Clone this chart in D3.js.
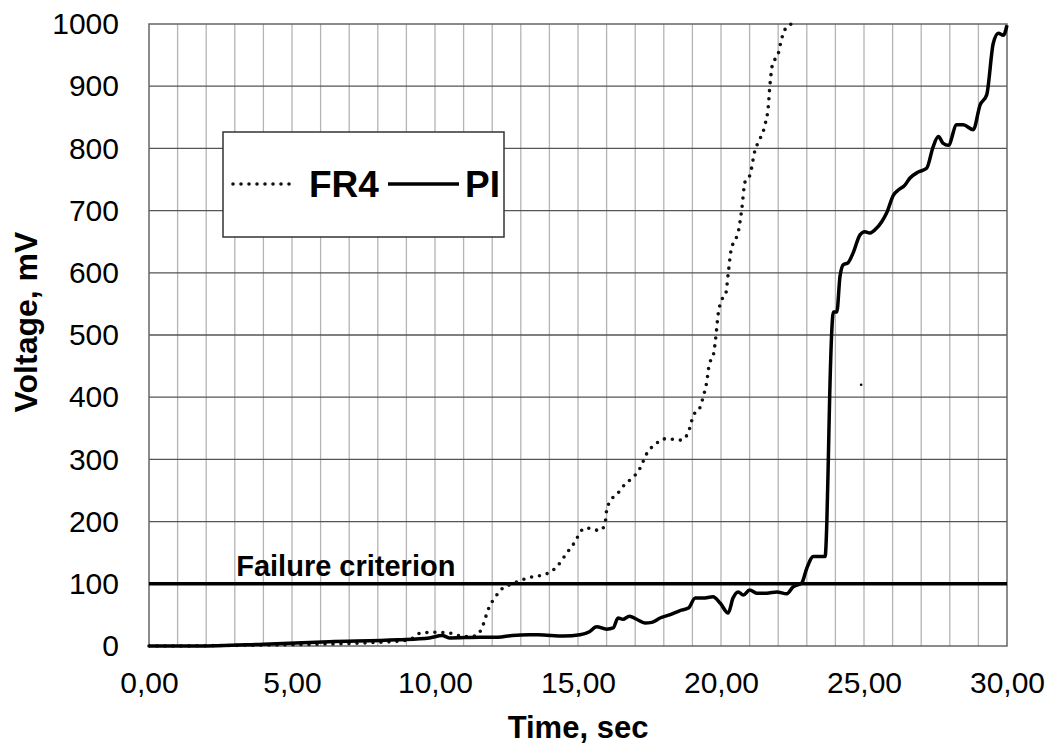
<!DOCTYPE html>
<html>
<head>
<meta charset="utf-8">
<script src="https://cdn.jsdelivr.net/npm/d3@7"></script>
<style>
  body { margin: 0; background: #fff; }
  text { font-family: "Liberation Sans", Arial, sans-serif; fill: #000; }
</style>
</head>
<body>
<div id="chart"></div>
<script>
// FR4 board (dotted) – time in sec, voltage in mV
const fr4Time = [0, 1, 2, 3, 4, 5, 6, 7, 8, 8.8, 9.2, 9.5, 10, 10.5, 10.8, 11.1, 11.4, 11.6, 11.9, 12.1, 12.3, 12.7, 13.3, 13.9, 14.25, 14.6, 14.95, 15.07, 15.3, 15.53, 15.77, 15.94, 16.0, 16.08, 16.4, 16.7, 16.88, 17.17, 17.4, 17.75, 17.97, 18.39, 18.62, 18.86, 19.03, 19.27, 19.38, 19.5, 19.59, 19.73, 19.81, 19.9, 20.02, 20.16, 20.26, 20.35, 20.43, 20.6, 20.72, 20.84, 21.01, 21.19, 21.36, 21.54, 21.65, 21.71, 21.8, 22.0, 22.12, 22.35, 22.5]
const fr4Volt = [0, 0, 0.5, 1, 1.5, 2, 3, 4, 6, 8, 12, 21, 22, 21, 17, 15, 16, 25, 63, 78, 90, 100, 110, 116, 127, 149, 172, 183, 190, 187, 186, 195, 218, 229, 246, 263, 269, 286, 309, 326, 333, 332, 331, 344, 370, 384, 401, 424, 453, 467, 493, 533, 556, 565, 602, 636, 648, 665, 700, 746, 757, 797, 815, 838, 866, 901, 935, 952, 976, 998, 1000]

// PI board (solid)
const piTime = [0, 1.7, 4, 6.3, 8.7, 9.8, 10.25, 10.5, 11.57, 12.2, 12.7, 13.3, 13.6, 14.5, 15.07, 15.4, 15.65, 16.0, 16.23, 16.4, 16.57, 16.8, 17.05, 17.34, 17.58, 17.87, 18.2, 18.57, 18.86, 19.1, 19.37, 19.72, 19.97, 20.25, 20.42, 20.6, 20.78, 21.0, 21.25, 21.6, 21.95, 22.3, 22.52, 22.82, 23.0, 23.23, 23.64, 23.7, 23.75, 23.8, 23.87, 23.93, 24.05, 24.16, 24.28, 24.44, 24.62, 24.86, 25.03, 25.2, 25.38, 25.62, 25.79, 26.03, 26.2, 26.43, 26.6, 26.9, 27.19, 27.42, 27.6, 27.77, 27.95, 28.24, 28.47, 28.82, 29.06, 29.29, 29.52, 29.7, 29.87, 30]
const piVolt = [0, 0, 3, 7, 10, 13, 17, 13, 14, 14, 17, 18, 18, 16, 18, 23, 31, 27, 29, 45, 43, 48, 43, 37, 38, 45, 50, 57, 61, 77, 77, 79, 69, 53, 77, 87, 82, 90, 85, 85, 87, 84, 95, 101, 125, 144, 144, 198, 294, 401, 503, 537, 537, 594, 613, 616, 632, 661, 666, 664, 669, 682, 696, 725, 733, 741, 752, 762, 768, 803, 819, 808, 805, 838, 838, 830, 870, 886, 969, 985, 982, 998]

// stray point seen in the plot
const strayPoint = [24.9, 420]

const failureLevel = 100
const xTicks = [0, 5, 10, 15, 20, 25, 30]
const yTicks = [0, 100, 200, 300, 400, 500, 600, 700, 800, 900, 1000]

const width = 1052, height = 745
const margin = {top: 24, right: 45, bottom: 99, left: 149}
const plotW = width - margin.left - margin.right
const plotH = height - margin.top - margin.bottom

const svg = d3.select("#chart").append("svg").attr("width", width).attr("height", height)

const x = d3.scaleLinear().domain([0, 30]).range([0, plotW])
const y = d3.scaleLinear().domain([0, 1000]).range([plotH, 0])

const comma = d3.formatLocale({decimal: ",", thousands: ".", grouping: [3], currency: ["", ""]})

const g = svg.append("g").attr("transform", `translate(${margin.left},${margin.top})`)

// vertical grid every second
g.append("g").selectAll("line").data(d3.range(1, 30)).enter().append("line")
  .attr("x1", d => x(d)).attr("x2", d => x(d))
  .attr("y1", 0).attr("y2", plotH)
  .attr("stroke", "#b4b4b4").attr("stroke-width", 1.3)

// horizontal grid
g.append("g").selectAll("line").data(yTicks.slice(1, -1)).enter().append("line")
  .attr("x1", 0).attr("x2", plotW)
  .attr("y1", d => y(d)).attr("y2", d => y(d))
  .attr("stroke", "#555").attr("stroke-width", 1.3)

// frame
g.append("rect").attr("width", plotW).attr("height", plotH)
  .attr("fill", "none").attr("stroke", "#666").attr("stroke-width", 1.5)

// axes
const xAxis = d3.axisBottom(x).tickValues(xTicks).tickSize(0).tickPadding(26).tickFormat(comma.format(".2f"))
const yAxis = d3.axisLeft(y).tickValues(yTicks).tickSize(0).tickPadding(30).tickFormat(d3.format("d"))
const xg = g.append("g").attr("transform", `translate(0,${plotH})`).call(xAxis)
const yg = g.append("g").call(yAxis)
xg.select(".domain").remove()
yg.select(".domain").remove()
g.selectAll(".tick text").attr("font-size", 30).attr("font-family", "Liberation Sans, Arial, sans-serif").attr("fill", "#000")

// failure criterion
g.append("line").attr("x1", x(0)).attr("x2", x(30))
  .attr("y1", y(failureLevel)).attr("y2", y(failureLevel))
  .attr("stroke", "#000").attr("stroke-width", 3.5)
g.append("text").attr("x", x(3.05)).attr("y", y(failureLevel) - 8)
  .attr("font-size", 29).attr("font-weight", "bold").text("Failure criterion")

const line = d3.line().x(d => x(d[0])).y(d => y(d[1])).curve(d3.curveMonotoneX)
const fr4 = fr4Time.map((t, i) => [t, fr4Volt[i]])
const pi = piTime.map((t, i) => [t, piVolt[i]])

g.append("path").datum(fr4).attr("d", line).attr("fill", "none")
  .attr("stroke", "#111").attr("stroke-width", 3.6)
  .attr("stroke-linecap", "round").attr("stroke-dasharray", "0,8")

g.append("path").datum(pi).attr("d", line).attr("fill", "none")
  .attr("stroke", "#000").attr("stroke-width", 3.5).attr("stroke-linejoin", "round")

g.append("circle").attr("cx", x(strayPoint[0])).attr("cy", y(strayPoint[1])).attr("r", 1.3).attr("fill", "#000")

// legend
const lg = svg.append("g").attr("transform", "translate(223,132)")
lg.append("rect").attr("width", 281).attr("height", 105).attr("fill", "#fff").attr("stroke", "#333").attr("stroke-width", 1.5)
lg.append("line").attr("x1", 10).attr("x2", 74).attr("y1", 52).attr("y2", 52)
  .attr("stroke", "#111").attr("stroke-width", 3.6).attr("stroke-linecap", "round").attr("stroke-dasharray", "0,8")
lg.append("text").attr("x", 86).attr("y", 65).attr("font-size", 37).attr("font-weight", "bold").text("FR4")
lg.append("line").attr("x1", 165).attr("x2", 236).attr("y1", 52).attr("y2", 52)
  .attr("stroke", "#000").attr("stroke-width", 3.5)
lg.append("text").attr("x", 242).attr("y", 65).attr("font-size", 37).attr("font-weight", "bold").text("PI")

// axis titles
svg.append("text").attr("x", margin.left + plotW / 2).attr("y", 738).attr("text-anchor", "middle")
  .attr("font-size", 31).attr("font-weight", "bold").text("Time, sec")
svg.append("text").attr("transform", "translate(37,322) rotate(-90)").attr("text-anchor", "middle")
  .attr("font-size", 32).attr("font-weight", "bold").text("Voltage, mV")
</script>
</body>
</html>
